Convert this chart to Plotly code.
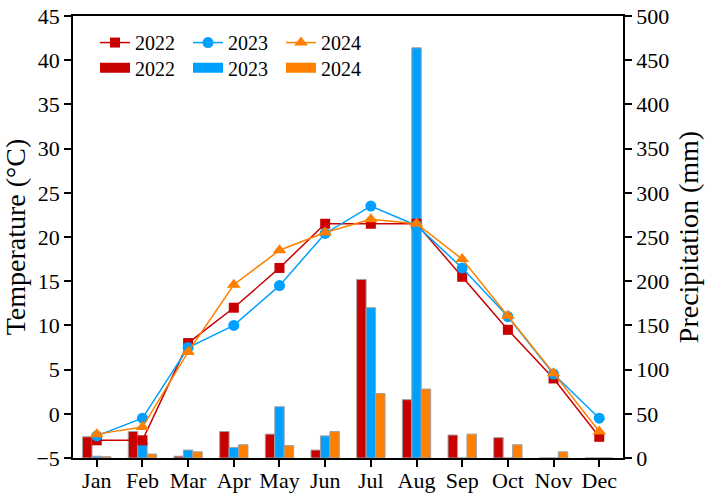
import plotly.graph_objects as go

months = ["Jan", "Feb", "Mar", "Apr", "May", "Jun", "Jul", "Aug", "Sep", "Oct", "Nov", "Dec"]

temp_2022 = [-3.0, -3.0, 8.0, 12.0, 16.5, 21.5, 21.5, 21.5, 15.5, 9.5, 4.0, -2.6]
temp_2023 = [-2.5, -0.5, 7.5, 10.0, 14.5, 20.4, 23.5, 21.3, 16.5, 11.0, 4.5, -0.5]
temp_2024 = [-2.3, -1.5, 7.0, 14.6, 18.5, 20.5, 22.0, 21.5, 17.5, 11.1, 4.6, -2.0]

prec_2022 = [24, 30, 2, 30, 27, 9, 202, 66, 26, 23, 0, 0]
prec_2023 = [2, 18, 9, 12, 58, 25, 170, 464, 0, 0, 0, 0]
prec_2024 = [1.5, 4.5, 7, 15, 14, 30, 73, 78, 27, 15, 7, 0]

years = ["2022", "2023", "2024"]
colors = ["#c80000", "#00a0ff", "#ff8000"]
symbols = ["square", "circle", "triangle-up"]
marker_sizes = [10, 11, 12]

FONT = "Liberation Serif, Times New Roman, serif"

fig = go.Figure()

for yr, vals, c in zip(years, [prec_2022, prec_2023, prec_2024], colors):
    fig.add_trace(go.Bar(
        x=months, y=vals, name=yr, yaxis="y",
        marker=dict(color=c, line=dict(color="#a0a0a0", width=1)),
        showlegend=False,
    ))

for yr, vals, c, s, ms in zip(years, [temp_2022, temp_2023, temp_2024], colors, symbols, marker_sizes):
    fig.add_trace(go.Scatter(
        x=months, y=vals, name=yr, yaxis="y2", mode="lines+markers",
        line=dict(color=c, width=1.5),
        marker=dict(symbol=s, size=ms, color=c),
        legend="legend",
    ))

# legend entries for the precipitation bars (wide rectangle swatches)
for yr, c in zip(years, colors):
    fig.add_trace(go.Scatter(
        x=[None], y=[None], name=yr, yaxis="y2", mode="lines",
        line=dict(color=c, width=13),
        legend="legend2",
    ))

axis_common = dict(
    showline=True, linecolor="black", linewidth=1.5,
    ticks="outside", ticklen=7, tickwidth=1.5, tickcolor="black",
    showgrid=False, zeroline=False, automargin=False,
    tickfont=dict(family=FONT, size=22, color="black"),
)

fig.update_layout(
    width=712, height=496,
    margin=dict(l=73, r=89, t=16, b=38),
    plot_bgcolor="white", paper_bgcolor="white",
    barmode="group", bargap=0.38, bargroupgap=0,
    font=dict(family=FONT, color="black"),
    xaxis=dict(**axis_common, type="category", range=[-0.52, 11.52], mirror=True,
               ticklabelstandoff=-5),
    yaxis=dict(**axis_common, side="right", range=[0, 500], dtick=50,
               title=dict(text="Precipitation (mm)", font=dict(family=FONT, size=28), standoff=10)),
    yaxis2=dict(**axis_common, side="left", overlaying="y", range=[-5, 45], dtick=5,
                title=dict(text="Temperature (°C)", font=dict(family=FONT, size=28), standoff=14)),
    legend=dict(orientation="h", x=0.04, y=0.984, xanchor="left", yanchor="top",
                entrywidth=48, bgcolor="rgba(0,0,0,0)",
                font=dict(family=FONT, size=20), tracegroupgap=0),
    legend2=dict(orientation="h", x=0.04, y=0.927, xanchor="left", yanchor="top",
                 entrywidth=48, bgcolor="rgba(0,0,0,0)",
                 font=dict(family=FONT, size=20), tracegroupgap=0),
)

fig.write_html("out.html")
